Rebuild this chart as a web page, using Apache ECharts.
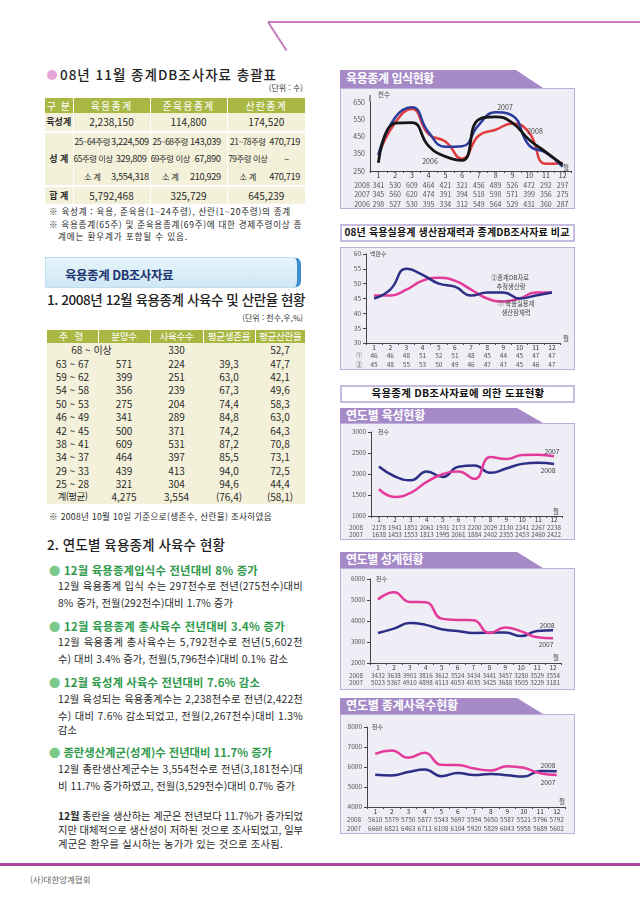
<!DOCTYPE html>
<html lang="ko"><head><meta charset="utf-8">
<script src="https://cdn.jsdelivr.net/npm/echarts@6/dist/echarts.min.js"></script>
<style>
html,body{margin:0;padding:0;}
body{width:640px;height:904px;position:relative;overflow:hidden;background:#fff;font-family:"Noto Sans CJK KR","Noto Sans",sans-serif;color:#2a2a2a;}
.t{position:absolute;white-space:nowrap;}
table{position:absolute;border-collapse:collapse;table-layout:fixed;font-size:9.5px;color:#2a2a2a;}
td{padding:0;text-align:center;white-space:nowrap;overflow:visible;background:#f3f1da;line-height:11px;}
tr.hd td{background:#a9b743;color:#fff;border-left:1px solid #fff;}
</style></head><body>
<script>
// ---------------- data ----------------
const months = ['1','2','3','4','5','6','7','8','9','10','11','12'];
// 육용종계 입식현황 (천수)
const chickIn2008 = [341,530,609,464,421,321,456,489,526,472,292,297];
const chickIn2007 = [345,560,620,474,391,394,518,590,571,399,356,275];
const chickIn2006 = [298,527,530,395,334,312,549,564,529,431,360,287];
// 08년 육용실용계 생산잠재력(①) 과 종계DB자료 추정생산량(②) (백만수)
const potential08 = [46,46,48,51,52,51,48,45,44,45,47,47];
const dbEstimate08 = [45,48,55,53,50,49,46,47,47,45,46,47];
// 연도별 육성현황 (천수)
const rearing2008 = [2178,1941,1851,2061,1931,2173,2200,2029,2130,2241,2267,2238];
const rearing2007 = [1638,1453,1553,1813,1995,2061,1884,2402,2355,2453,2460,2422];
// 연도별 성계현황 (천수)
const laying2008 = [3432,3638,3901,3816,3612,3524,3434,3441,3457,3280,3529,3554];
const laying2007 = [5023,5367,4910,4898,4113,4053,4035,3425,3688,3505,3229,3181];
// 연도별 종계사육수현황 (천수)
const stock2008 = [5610,5579,5750,5877,5543,5697,5594,5650,5587,5521,5796,5792];
const stock2007 = [6660,6821,6463,6711,6108,6104,5920,5829,6043,5958,5689,5602];

// 총괄표
const summaryHead = ['구 분','육용종계','준육용종계','산란종계'];
const rearingRow = ['육성계','2,238,150','114,800','174,520'];
const layerRows = [
  ['25~64주령','3,224,509','25~68주령','143,039','21~78주령','470,719'],
  ['65주령 이상','329,809','69주령 이상','67,890','79주령 이상','–'],
  ['소 계','3,554,318','소 계','210,929','소 계','470,719']
];
const totalRow = ['합 계','5,792,468','325,729','645,239'];
// 사육수 및 산란율 현황
const ageHead = ['주 령','분양수','사육수수','평균생존율','평균산란율'];
const ageRows = [
  ['68 ~ 이상','','330','','52,7'],
  ['63 ~ 67','571','224','39,3','47,7'],
  ['59 ~ 62','399','251','63,0','42,1'],
  ['54 ~ 58','356','239','67,3','49,6'],
  ['50 ~ 53','275','204','74,4','58,3'],
  ['46 ~ 49','341','289','84,8','63,0'],
  ['42 ~ 45','500','371','74,2','64,3'],
  ['38 ~ 41','609','531','87,2','70,8'],
  ['34 ~ 37','464','397','85,5','73,1'],
  ['29 ~ 33','439','413','94,0','72,5'],
  ['25 ~ 28','321','304','94,6','44,4'],
  ['계(평균)','4,275','3,554','(76,4)','(58,1)']
];

// ---------------- helpers ----------------
const FONT = '"Noto Sans CJK KR","Noto Sans",sans-serif';
function T(x,y,html,o){
  o=o||{}; const fs=o.fs||10;
  const d=document.createElement('div'); d.className='t';
  d.style.fontSize=fs+'px'; d.style.lineHeight=fs+'px'; d.style.top=(y-0.55*fs)+'px';
  if(o.align==='right') d.style.right=(640-x)+'px';
  else if(o.align==='center'){ d.style.left=x+'px'; d.style.transform='translateX(-50%)'; }
  else d.style.left=x+'px';
  if(o.color) d.style.color=o.color;
  if(o.weight) d.style.fontWeight=o.weight;
  if(o.w) d.dataset.w=o.w;
  d.innerHTML=html; document.body.appendChild(d); return d;
}
function R(x,y,w,h,css){const d=document.createElement('div');d.style.cssText=`position:absolute;left:${x}px;top:${y}px;width:${w}px;height:${h}px;`+(css||'');document.body.appendChild(d);return d;}
function fit(){
  document.querySelectorAll('[data-w]').forEach(el=>{
    el.style.letterSpacing='0px';
    const w=el.getBoundingClientRect().width;
    const n=[...el.textContent].length;
    el.style.letterSpacing=((+el.dataset.w-w)/n)+'px';
  });
}

// ---------------- page decoration ----------------
R(268,21,372,2,'background:#c77bbd;');
R(268,21,34,2,'background:#c77bbd;transform-origin:0 50%;transform:rotate(57deg);');
R(0,863,640,3,'background:#a8489c;');
T(30,880,'(사)대한양계협회',{fs:8.5,color:'#666'});

// ---------------- left column ----------------
R(47,70,10,10,'border-radius:50%;background:#e7a6d8;');
T(60,75,'08년 11월 종계DB조사자료 총괄표',{fs:13.5,weight:500,color:'#222',w:217});
T(303,88,'(단위 : 수)',{fs:8,align:'right',color:'#333'});

(function(){
  const t=document.createElement('table');
  t.style.cssText='left:45px;top:98px;width:260px;';
  const widths=[28,38,39,40,37,41,37];
  let h='<colgroup>'+widths.map(w=>`<col style="width:${w}px">`).join('')+'</colgroup>';
  h+='<tr class="hd" style="height:15px">'+`<td style="font-size:10px;letter-spacing:1px;border-left:none">${summaryHead[0]}</td>`+
     summaryHead.slice(1).map(x=>`<td colspan="2" style="font-size:10px;letter-spacing:1.2px">${x}</td>`).join('')+'</tr>';
  h+='<tr style="height:18.5px">'+`<td style="font-weight:700;font-size:9px">${rearingRow[0]}</td>`+
     rearingRow.slice(1).map(x=>`<td colspan="2" style="font-size:10px;border-left:1px solid #fff">${x}</td>`).join('')+'</tr>';
  layerRows.forEach((r,k)=>{
    h+='<tr style="height:18px">'+(k===0?'<td rowspan="3" style="font-weight:700;font-size:9px;border-top:2px solid #fff;border-bottom:2px solid #fff">성 계</td>':'')+
      r.map((x,j)=> j%2===0
        ? `<td style="font-size:8.3px;letter-spacing:-0.4px;border-left:1px solid #fff;${k===0?'border-top:2px solid #fff;':''}">${x}</td>`
        : `<td style="font-size:9.3px;letter-spacing:-0.4px;text-align:right;padding-right:${j===1?3:j===3?6:5}px;${k===0?'border-top:2px solid #fff;':''}${j===5&&x==='–'?'text-align:center;padding-right:0;':''}">${x}</td>`).join('')+'</tr>';
  });
  h+='<tr style="height:18.5px">'+`<td style="font-weight:700;font-size:9px;border-top:2px solid #fff">${totalRow[0]}</td>`+
     totalRow.slice(1).map(x=>`<td colspan="2" style="font-size:10px;border-left:1px solid #fff;border-top:2px solid #fff">${x}</td>`).join('')+'</tr>';
  t.innerHTML=h; document.body.appendChild(t);
})();

T(49,212,'※ 육성계 : 육용, 준육용(1~24주령), 산란(1~20주령)의 종계',{fs:8.6,w:242});
T(49,225,'※ 육용종계(65주) 및 준육용종계(69주)에 대한 경제주령이상 종',{fs:8.6,w:253});
T(58,237,'계에는 환우계가 포함될 수 있음.',{fs:8.6,w:130});

R(45,257,256,31,'box-sizing:border-box;background:linear-gradient(#e6f4fb,#cfe8f5);border:1px solid #bfdff0;border-right:4px solid #3b8fcf;border-radius:0 7px 7px 0;');
T(65,276,'육용종계 DB조사자료',{fs:12.5,weight:700,color:'#1f3670',w:108});

T(47,300,'1. 2008년 12월 육용종계 사육수 및 산란율 현황',{fs:13.5,weight:500,color:'#222',w:258});
T(303,318,'(단위 : 천수,우,%)',{fs:8,align:'right',color:'#333'});

(function(){
  const t=document.createElement('table');
  t.style.cssText='left:47px;top:330px;width:258px;';
  const widths=[51,52,53,52,50];
  let h='<colgroup>'+widths.map(w=>`<col style="width:${w}px">`).join('')+'</colgroup>';
  h+='<tr class="hd">'+ageHead.map((x,i)=>`<td style="height:13px;font-size:9.6px;letter-spacing:-0.3px;${i===0?'border-left:none;letter-spacing:2px;':''}">${x}</td>`).join('')+'</tr>';
  ageRows.forEach((r,k)=>{
    const hs='height:13.4px;';
    if(r[1]===''&&k===0){
      h+=`<tr><td colspan="2" style="${hs}font-size:10px;padding-right:14px">${r[0]}</td><td style="${hs}font-size:10px">${r[2]}</td><td style="${hs}">${r[3]}</td><td style="${hs}font-size:10px">${r[4]}</td></tr>`;
    } else {
      h+='<tr>'+r.map((x,i)=>`<td style="${hs}font-size:10px;${i===0&&k===ageRows.length-1?'font-size:9.5px;letter-spacing:-0.5px;':''}">${x}</td>`).join('')+'</tr>';
    }
  });
  t.innerHTML=h; document.body.appendChild(t);
})();

T(49,517,'※ 2008년 10월 10일 기준으로(생존수, 산란율) 조사하였음',{fs:8.6,w:223});

T(47,545,'2. 연도별 육용종계 사육수 현황',{fs:13.5,weight:500,color:'#222',w:178});
const G='#2f9a4c', GB='<span style="color:#7cc98c">●</span> ';
T(49,571,GB+'12월 육용종계입식수 전년대비 8% 증가',{fs:11.3,weight:700,color:G,w:209});
T(58,587,'12월 육용종계 입식 수는 297천수로 전년(275천수)대비',{fs:10.3,w:245});
T(58,604,'8% 증가, 전월(292천수)대비 1.7% 증가',{fs:10.3,w:175});
T(49,627,GB+'12월 육용종계 총사육수 전년대비 3.4% 증가',{fs:11.3,weight:700,color:G,w:236});
T(58,643,'12월 육용종계 총사육수는 5,792천수로 전년(5,602천',{fs:10.3,w:245});
T(58,660,'수) 대비 3.4% 증가, 전월(5,796천수)대비 0.1% 감소',{fs:10.3,w:230});
T(49,683,GB+'12월 육성계 사육수 전년대비 7.6% 감소',{fs:11.3,weight:700,color:G,w:211});
T(58,700,'12월 육성되는 육용종계수는 2,238천수로 전년(2,422천',{fs:10.3,w:245});
T(58,717,'수) 대비 7.6% 감소되었고, 전월(2,267천수)대비 1.3%',{fs:10.3,w:245});
T(58,731,'감소',{fs:10.3});
T(49,753,GB+'종란생산계군(성계)수 전년대비 11.7% 증가',{fs:11.3,weight:700,color:G,w:223});
T(58,770,'12월 종란생산계군수는 3,554천수로 전년(3,181천수)대',{fs:10.3,w:245});
T(58,787,'비 11.7% 증가하였고, 전월(3,529천수)대비 0.7% 증가',{fs:10.3,w:237});
T(58,817,'<b>12월</b> 종란을 생산하는 계군은 전년보다 11.7%가 증가되었',{fs:10.3,w:245});
T(58,831,'지만 대체적으로 생산성이 저하된 것으로 조사되었고, 일부',{fs:10.3,w:245});
T(58,845,'계군은 환우를 실시하는 농가가 있는 것으로 조사됨.',{fs:10.3,w:225});

// ---------------- right column: charts ----------------
function txt(x,y,text,fs,color,align){
  return {type:'text',x:x,y:y,silent:true,z:10,
    style:{text:text,fill:color,font:fs+'px '+FONT,textAlign:align||'center',textVerticalAlign:'middle',align:align||'center',verticalAlign:'middle'}};
}
function tab(y,h,topW,botW,label,w){
  R(340,y,botW,h,`background:#a68ac8;clip-path:polygon(0 0,${topW}px 0,${botW}px 100%,0 100%);`);
  T(346,y+h/2,label,{fs:12,weight:700,color:'#fff',w:w});
}
function lineChart(g){
  R(g.bx,g.by,g.bw,g.bh,'box-sizing:border-box;border:1.5px solid #bcb0da;background:#efedf6;');
  const el=R(g.bx,g.by,g.bw,g.bh,'');
  const c=echarts.init(el,null,{renderer:'canvas'});
  const L=g.axisX-g.bx, T0=g.topY-g.by, H=g.bottomY-g.topY;
  const LH=g.lh, top=g.bottomY+g.margin-g.by;
  const rich={m:{fontSize:g.fs,lineHeight:LH,color:'#333',fontFamily:FONT},
              r:{fontSize:g.fs,lineHeight:LH,color:'#555',fontFamily:FONT}};
  const gr=[];
  g.series.forEach((s,k)=>gr.push(txt(g.rowX-g.bx, top+LH*(k+1.5), s.row, g.fs, '#555','center')));
  (g.notes||[]).forEach(n=>gr.push(txt(n[0]-g.bx,n[1]-g.by,n[2],n[3]||g.fs,n[4]||'#444',n[5]||'center')));
  if(g.ext) gr.push({type:'line',silent:true,shape:{x1:L,y1:T0-g.ext,x2:L,y2:T0},style:{stroke:'#444',lineWidth:1}});
  c.setOption({
    animation:false,
    grid:{left:L,top:T0,width:g.gw,height:H},
    xAxis:{type:'category',data:months,boundaryGap:true,
      axisLine:{lineStyle:{color:'#444',width:1}},
      axisTick:{show:true,length:2,lineStyle:{color:'#444'}},
      axisLabel:{margin:g.margin,interval:0,
        formatter:(v,i)=>'{m|'+v+'}\n'+g.series.map(s=>'{r|'+s.data[i]+'}').join('\n'),rich:rich}},
    yAxis:{type:'value',min:g.min,max:g.max,interval:g.iv,
      axisLine:{show:true,lineStyle:{color:'#444'}},
      axisTick:{show:g.ticks!==false,length:3,lineStyle:{color:'#444'}},
      splitLine:{show:false},
      axisLabel:{fontSize:g.fs,color:'#555',margin:5,fontFamily:FONT,formatter:g.yfmt||(v=>String(v))}},
    series:g.series.map(s=>({type:'line',data:s.data,smooth:0.5,symbol:'none',
      lineStyle:{color:s.color,width:s.width||2.5}})),
    graphic:gr
  });
}

// chart 1
lineChart({bx:340,by:88,bw:235,bh:121,axisX:370,gw:201,topY:102,bottomY:171,
  min:250,max:650,iv:50,ticks:false,yfmt:v=>((v-250)%100===0?String(v):''),
  fs:7,lh:9.5,margin:0,rowX:362,ext:7,
  series:[{row:'2008',data:chickIn2008,color:'#e23b3b'},
          {row:'2007',data:chickIn2007,color:'#2c3a9c'},
          {row:'2006',data:chickIn2006,color:'#161616',width:2.8}],
  notes:[[378,95,'천수',6.5,'#444','left'],[566,168,'월',6.5,'#444','center'],
         [505,107,'2007',7],[535,131,'2008',7],[430,161,'2006',7]]});
tab(70,18,176,203,'육용종계 입식현황',88);

// chart 2
R(340,224,235,18,'box-sizing:border-box;border:2px solid #c6bcdf;background:#fff;');
T(457,232.5,'08년 육용실용계 생산잠재력과 종계DB조사자료 비교',{fs:10,weight:700,color:'#111',align:'center',w:225});
lineChart({bx:340,by:247,bw:235,bh:123,axisX:366,gw:194,topY:254,bottomY:343,
  min:30,max:60,iv:5,fs:6.5,lh:8.5,margin:0,rowX:359,
  series:[{row:'①',data:potential08,color:'#e43a9a'},
          {row:'②',data:dbEstimate08,color:'#2d2f86'}],
  notes:[[370,254,'백만수',6,'#444','left'],[566,339,'월',6.5,'#444','center'],
         [510,278,'②종계DB자료',6.3],[511,287,'추정생산량',6.3],
         [516,304,'① 육용실용계',6.3],[516,313,'생산잠재력',6.3]]});

// chart 3
R(340,385,235,18,'box-sizing:border-box;border:2px solid #c6bcdf;background:#fff;');
T(458,393.5,'육용종계 DB조사자료에 의한 도표현황',{fs:10.5,weight:700,color:'#111',align:'center',w:173});
lineChart({bx:340,by:423,bw:235,bh:117,axisX:371,gw:191,topY:432,bottomY:516,
  min:1000,max:3000,iv:500,fs:6.3,lh:7.5,margin:0,rowX:356,
  series:[{row:'2008',data:rearing2008,color:'#2d2f86'},
          {row:'2007',data:rearing2007,color:'#e43a9a'}],
  notes:[[378,432,'천수',6,'#444','left'],[556,512,'월',6.5,'#444','center'],
         [552,451,'2007',6.8],[548,470,'2008',6.8]]});
tab(408,15,177,203,'연도별 육성현황',79);

// chart 4
lineChart({bx:340,by:568,bw:235,bh:122,axisX:370,gw:191,topY:579,bottomY:663,
  min:2000,max:6000,iv:1000,fs:6.3,lh:7.5,margin:1,rowX:356,
  series:[{row:'2008',data:laying2008,color:'#2d2f86'},
          {row:'2007',data:laying2007,color:'#e43a9a'}],
  notes:[[376,579,'천수',6,'#444','left'],[556,658,'월',6.5,'#444','center'],
         [547,625,'2008',6.8],[546,644,'2007',6.8]]});
tab(552,16,177,203,'연도별 성계현황',77);

// chart 5
lineChart({bx:340,by:714,bw:235,bh:120,axisX:367,gw:198,topY:727,bottomY:807,
  min:4000,max:8000,iv:1000,fs:6.5,lh:8.5,margin:0,rowX:354,
  series:[{row:'2008',data:stock2008,color:'#2d2f86'},
          {row:'2007',data:stock2007,color:'#e43a9a'}],
  notes:[[372,727,'천수',6,'#444','left'],[562,802,'월',6.5,'#444','center'],
         [548,765,'2008',6.8],[548,782,'2007',6.8]]});
tab(698,16,177,203,'연도별 종계사육수현황',112);

fit();
if(document.fonts&&document.fonts.ready) document.fonts.ready.then(fit);
</script>
</body></html>
